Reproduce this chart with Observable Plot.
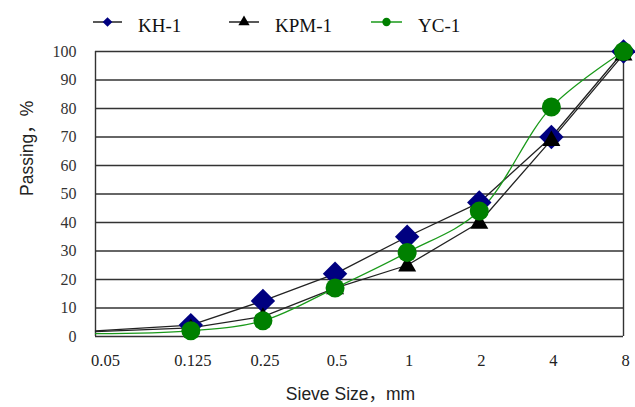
<!DOCTYPE html>
<html>
<head>
<meta charset="utf-8">
<script src="https://cdn.jsdelivr.net/npm/d3@7"></script>
<script src="https://cdn.jsdelivr.net/npm/@observablehq/plot@0.6"></script>
<style>
  html, body { margin: 0; padding: 0; background: #fff; }
  #wrap { position: relative; width: 635px; height: 407px; overflow: hidden; }
  #legend { position: absolute; left: 0; top: 0; width: 635px; height: 44px; }
  #chart { position: absolute; left: 0; top: 0; }
</style>
</head>
<body>
<div id="wrap">
  <div id="chart"></div>
  <svg id="legend" width="635" height="44"></svg>
</div>
<script>
// ---- data ----
const sieveSizes = [0.05, 0.125, 0.25, 0.5, 1, 2, 4, 8];
const sieveLabels = ["0.05", "0.125", "0.25", "0.5", "1", "2", "4", "8"];
const kh1 = [2, 4, 12.5, 22, 35, 47, 70, 100];
const kpm1 = [1.7, 3, 7, 17, 25, 40, 69, 99];
const yc1 = [1, 2, 5.5, 17, 29.5, 44, 80.5, 100];
const yTicks = [0, 10, 20, 30, 40, 50, 60, 70, 80, 90, 100];
const seriesNames = ["KH-1", "KPM-1", "YC-1"];
const xTitle = "Sieve Size，mm";
const yTitle = "Passing，%";

const toRows = (name, vals) => sieveSizes.map((s, i) => ({series: name, size: s, pass: vals[i]}));
const rowsKH = toRows("KH-1", kh1);
const rowsKPM = toRows("KPM-1", kpm1);
const rowsYC = toRows("YC-1", yc1);
const shown = d => d.size > sieveSizes[0];
const tickRows = sieveSizes.map((s, i) => ({size: s, label: sieveLabels[i], first: i === 0}));

const serif = "'Liberation Serif', 'Times New Roman', serif";
const sans = "'Liberation Sans', Arial, 'Noto Sans CJK SC', sans-serif";

const chart = Plot.plot({
  width: 635,
  height: 407,
  marginLeft: 95,
  marginRight: 12,
  marginTop: 51,
  marginBottom: 71,
  style: {background: "transparent", overflow: "visible"},
  x: {type: "log", domain: [0.05, 8], axis: null},
  y: {domain: [0, 100]},
  marks: [
    Plot.ruleY(yTicks, {stroke: "#333", strokeWidth: 1.4}),
    Plot.ruleX([sieveSizes[0], sieveSizes[sieveSizes.length - 1]], {y1: 0, y2: 100, stroke: "#333", strokeWidth: 1.4}),
    Plot.line(rowsKH, {x: "size", y: "pass", stroke: "#222", strokeWidth: 1.3}),
    Plot.line(rowsKPM, {x: "size", y: "pass", stroke: "#222", strokeWidth: 1.3}),
    Plot.line(rowsYC, {x: "size", y: "pass", stroke: "#1a9a1a", strokeWidth: 1.3, curve: "catmull-rom"}),
    Plot.dot(rowsKH.filter(shown), {x: "size", y: "pass", symbol: "diamond2", r: 11, fill: "#000080", stroke: "none"}),
    Plot.dot(rowsKPM.filter(shown), {x: "size", y: "pass", symbol: "triangle", r: 6.7, fill: "#000", stroke: "none", dy: 1}),
    Plot.dot(rowsYC.filter(shown), {x: "size", y: "pass", symbol: "circle", r: 9.5, fill: "#008000", stroke: "none"}),
    Plot.text(tickRows.filter(d => d.first), {x: "size", text: "label", frameAnchor: "bottom", dy: 29, dx: 10,
      fontSize: 16.5, fontFamily: serif, fill: "#222"}),
    Plot.text(tickRows.filter(d => !d.first), {x: "size", text: "label", frameAnchor: "bottom", dy: 29, dx: 2,
      fontSize: 16.5, fontFamily: serif, fill: "#222"}),
    Plot.axisY({
      ticks: yTicks, tickSize: 0, tickPadding: 19,
      fontSize: 16, fontFamily: serif, fill: "#333", label: null
    }),
    Plot.text([xTitle], {frameAnchor: "bottom", dy: 63, dx: -9, fontSize: 17.5, fontFamily: sans, fill: "#222"}),
    Plot.text([yTitle], {frameAnchor: "left", dx: -68, dy: 2, rotate: -90, fontSize: 17.5, fontFamily: sans, fill: "#222"})
  ]
});
document.getElementById("chart").appendChild(chart);

// ---- legend ----
const legend = d3.select("#legend");
const legendItems = [
  {name: seriesNames[0], x0: 93, x1: 122, tx: 138, line: "#222", symbol: d3.symbolDiamond2, size: 60, fill: "#000080"},
  {name: seriesNames[1], x0: 229, x1: 259, tx: 275, line: "#222", symbol: d3.symbolTriangle, size: 55, fill: "#000"},
  {name: seriesNames[2], x0: 371, x1: 402, tx: 418, line: "#1a9a1a", symbol: d3.symbolCircle, size: 55, fill: "#008000"}
];
const ly = 22;
for (const it of legendItems) {
  legend.append("line").attr("x1", it.x0).attr("x2", it.x1).attr("y1", ly).attr("y2", ly)
    .attr("stroke", it.line).attr("stroke-width", 1.5);
  legend.append("path").attr("d", d3.symbol(it.symbol, it.size)())
    .attr("transform", `translate(${(it.x0 + it.x1) / 2},${ly})`).attr("fill", it.fill);
  legend.append("text").attr("x", it.tx).attr("y", 32)
    .style("font-family", serif).style("font-size", "19px").attr("fill", "#111").text(it.name);
}
</script>
</body>
</html>
